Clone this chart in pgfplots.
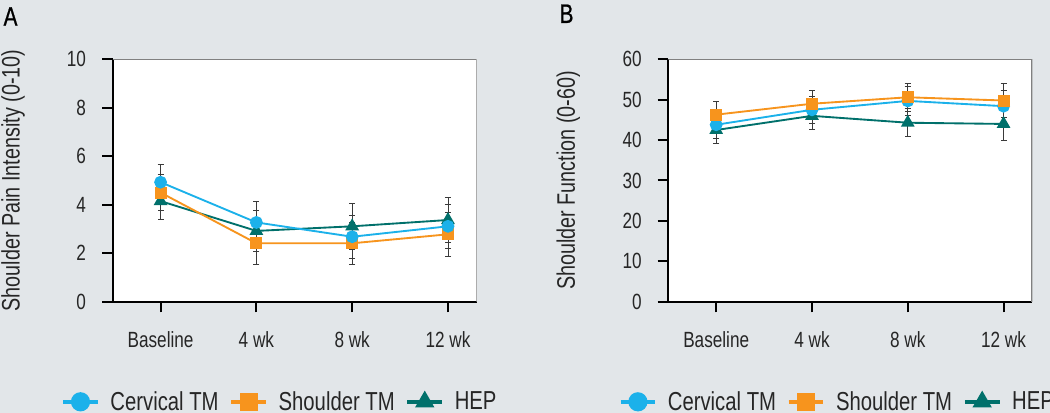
\documentclass[border=0pt]{standalone}
\usepackage{pgfplots}
\pgfplotsset{compat=1.18}
\usepackage{fontspec}
\setmainfont{Liberation Sans}[FakeStretch=0.78]
\newfontfamily\panelfont{Liberation Sans}[FakeStretch=0.78, FakeBold=0.8]
\definecolor{bg}{HTML}{E2E6E9}
\definecolor{cerv}{HTML}{1BB1EA}
\definecolor{shou}{HTML}{F7941D}
\definecolor{hep}{HTML}{00706B}
\definecolor{ebar}{HTML}{3A3A3A}

\pgfplotsset{
  panel/.style={
    scale only axis,
    width=273pt, height=181.8pt,
    xmin=-0.5, xmax=3.3,
    xtick={0,1,2,3},
    xticklabels={Baseline,4 wk,8 wk,12 wk},
    axis x line*=bottom, axis y line*=left,
    axis line style={black, line width=1.6pt, -},
    tick style={black, line width=1.5pt},
    tick align=outside,
    major tick length=8pt,
    ytick pos=left, xtick pos=bottom,
    axis background/.style={fill=white},
    /pgf/number format/assume math mode=true,
    tick label style={font=\fontsize{16.5}{19}\selectfont, text=black!85},
    xticklabel style={yshift=-11pt},
    yticklabel style={xshift=-8.5pt},
    label style={font=\fontsize{19}{22}\selectfont, text=black!85},
    legend style={draw=none, fill=none, font=\fontsize{19.5}{22}\selectfont,
      legend columns=3, column sep=6pt, text=black!85},
    legend cell align=left,
    legend image code/.code={
      \draw[#1, line width=3pt] (0pt,0pt) -- (26pt,0pt);
      \draw[#1, mark repeat=2, mark phase=2] plot coordinates {(0pt,0pt) (13pt,0pt) (26pt,0pt)};
    },
    every axis plot/.append style={line width=1.4pt},
    error bars/y dir=both, error bars/y explicit,
    error bars/error bar style={ebar, line width=0.6pt, solid},
    error bars/error mark options={ebar, rotate=90, mark size=2.3pt, line width=0.6pt},
  },
  cervs/.style={cerv, mark=*, mark size=4.1pt, mark options={fill=cerv, draw=cerv}},
  shous/.style={shou, mark=square*, mark size=3.8pt, mark options={fill=shou, draw=shou}},
  heps/.style={hep, mark=triangle*, mark size=4.6pt, mark options={fill=hep, draw=hep}},
}

\begin{document}
\begin{tikzpicture}
\fill[bg] (0pt,0pt) rectangle (787.5pt,309.75pt);
\useasboundingbox (0pt,0pt) rectangle (787.5pt,309.75pt);

\node[anchor=north west, inner sep=0pt, font=\panelfont\fontsize{20}{23}\selectfont] at (2.5pt,304.5pt) {A};
\node[anchor=north west, inner sep=0pt, font=\panelfont\fontsize{20}{23}\selectfont] at (419.5pt,306.5pt) {B};

% Panel A
\begin{axis}[panel, at={(84.525pt,83.475pt)}, anchor=south west,
  ymin=0, ymax=10, ytick={0,2,4,6,8,10},
  ylabel={Shoulder Pain Intensity (0-10)},
  ylabel style={at={(axis description cs:-0.274,0.5)}, anchor=center},
  legend style={at={(0.46,-0.413)}, anchor=center}]
\draw[gray, line width=1.4pt] (rel axis cs:0,1) -- (rel axis cs:1,1) -- (rel axis cs:1,0);
\addplot[heps, forget plot] coordinates {(0,4.15) +- (0,0.75) (1,2.92) +- (0,0.86) (2,3.11) +- (0,0.95) (3,3.37) +- (0,0.94)};
\addplot[shous, forget plot] coordinates {(0,4.50) +- (0,0.75) (1,2.41) +- (0,0.86) (2,2.41) +- (0,0.87) (3,2.78) +- (0,0.92)};
\addplot[cervs, forget plot] coordinates {(0,4.93) +- (0,0.75) (1,3.27) +- (0,0.86) (2,2.68) +- (0,0.88) (3,3.11) +- (0,0.90)};
\addlegendimage{cerv, mark=*, mark size=6.5pt, mark options={fill=cerv, draw=cerv}}
\addlegendentry{Cervical TM}
\addlegendimage{shou, mark=square*, mark size=6pt, mark options={fill=shou, draw=shou}}
\addlegendentry{Shoulder TM}
\addlegendimage{hep, mark=triangle*, mark size=7pt, mark options={fill=hep, draw=hep}}
\addlegendentry{HEP}
\end{axis}

% Panel B
\begin{axis}[panel, at={(501.225pt,83.475pt)}, anchor=south west,
  ymin=0, ymax=60, ytick={0,10,20,30,40,50,60},
  ylabel={Shoulder Function (0-60)},
  ylabel style={at={(axis description cs:-0.275,0.5)}, anchor=center},
  legend style={at={(0.465,-0.413)}, anchor=center}]
\draw[gray, line width=1.4pt] (rel axis cs:0,1) -- (rel axis cs:1,1) -- (rel axis cs:1,0);
\addplot[heps, forget plot] coordinates {(0,42.5) +- (0,3.4) (1,46.0) +- (0,3.3) (2,44.3) +- (0,3.5) (3,44.0) +- (0,4.0)};
\addplot[cervs, forget plot] coordinates {(0,43.8) +- (0,3.4) (1,47.5) +- (0,3.4) (2,49.7) +- (0,3.5) (3,48.4) +- (0,4.0)};
\addplot[shous, forget plot] coordinates {(0,46.3) +- (0,3.4) (1,49.0) +- (0,3.4) (2,50.6) +- (0,3.4) (3,49.8) +- (0,4.3)};
\addlegendimage{cerv, mark=*, mark size=6.5pt, mark options={fill=cerv, draw=cerv}}
\addlegendentry{Cervical TM}
\addlegendimage{shou, mark=square*, mark size=6pt, mark options={fill=shou, draw=shou}}
\addlegendentry{Shoulder TM}
\addlegendimage{hep, mark=triangle*, mark size=7pt, mark options={fill=hep, draw=hep}}
\addlegendentry{HEP}
\end{axis}
\end{tikzpicture}
\end{document}
